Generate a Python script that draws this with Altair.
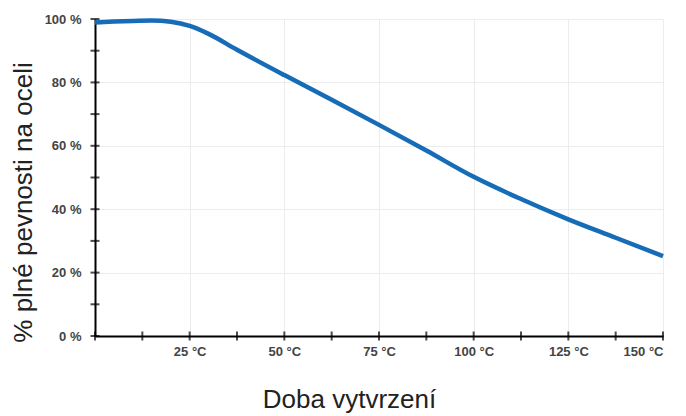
import altair as alt
import pandas as pd

temps = [0, 5, 10, 15, 20, 25, 30, 37.5, 50, 62.5, 75, 87.5, 100, 112.5, 125, 137.5, 150]
strength = [98.9, 99.2, 99.4, 99.5, 99.1, 97.8, 95.3, 90.3, 82.3, 74.5, 66.6, 58.5, 50.2, 43.2, 36.8, 31.0, 25.2]
x_ticks = [0, 12.5, 25, 37.5, 50, 62.5, 75, 87.5, 100, 112.5, 125, 137.5, 150]
y_ticks = [0, 10, 20, 30, 40, 50, 60, 70, 80, 90, 100]
x_labels = [0, 25, 50, 75, 100, 125, 150]
y_labels = [0, 20, 40, 60, 80, 100]

df = pd.DataFrame({"t": temps, "s": strength})
xt = pd.DataFrame({"v": x_ticks})
yt = pd.DataFrame({"v": y_ticks})

W, H = 568, 317
xs = alt.Scale(domain=[0, 150], nice=False)
ys = alt.Scale(domain=[0, 100], nice=False)

label_font = "Liberation Sans"

line = alt.Chart(df).mark_line(color="#166cb6", strokeWidth=4.5, interpolate="monotone").encode(
    x=alt.X("t:Q", scale=xs, title="Doba vytvrzení",
            axis=alt.Axis(values=x_labels,
                          labelExpr="datum.value == 0 ? '' : datum.value + ' °C'",
                          grid=True, gridColor="#ececec", gridWidth=1,
                          ticks=False, domain=True, domainColor="#000", domainWidth=2,
                          labelPadding=9, labelFont=label_font, labelFontSize=13,
                          labelFontWeight="bold", labelColor="#444",
                          titleFont=label_font, titleFontSize=26, titleFontWeight="normal",
                          titleColor="#222", titleX=254, titleY=71,
                          titleBaseline="alphabetic", titleAnchor="middle", titleAlign="center")),
    y=alt.Y("s:Q", scale=ys, title="% plné pevnosti na oceli",
            axis=alt.Axis(values=y_labels,
                          labelExpr="datum.value + ' %'",
                          grid=True, gridColor="#ececec", gridWidth=1,
                          ticks=False, domain=True, domainColor="#000", domainWidth=2,
                          labelPadding=14, labelFont=label_font, labelFontSize=13,
                          labelFontWeight="bold", labelColor="#444",
                          titleFont=label_font, titleFontSize=26, titleFontWeight="normal",
                          titleColor="#222", titleX=-64, titleY=183,
                          titleBaseline="alphabetic", titleAngle=270, titleAlign="center")),
)

xticks = alt.Chart(xt).mark_tick(orient="vertical", size=9, thickness=2, color="#000").encode(
    x=alt.X("v:Q", scale=xs), y=alt.Y("zero:Q", scale=ys)
).transform_calculate(zero="0")

yticks = alt.Chart(yt).mark_tick(orient="horizontal", size=9, thickness=2, color="#000").encode(
    y=alt.Y("v:Q", scale=ys), x=alt.X("zero:Q", scale=xs)
).transform_calculate(zero="0")

chart = alt.layer(line, xticks, yticks).properties(
    width=W, height=H,
    autosize=alt.AutoSizeParams(type="none"),
    padding={"left": 87, "top": 11, "right": 15, "bottom": 80},
).configure_view(stroke=None)

chart.save("out.html", embed_options={"renderer": "svg", "actions": False})
